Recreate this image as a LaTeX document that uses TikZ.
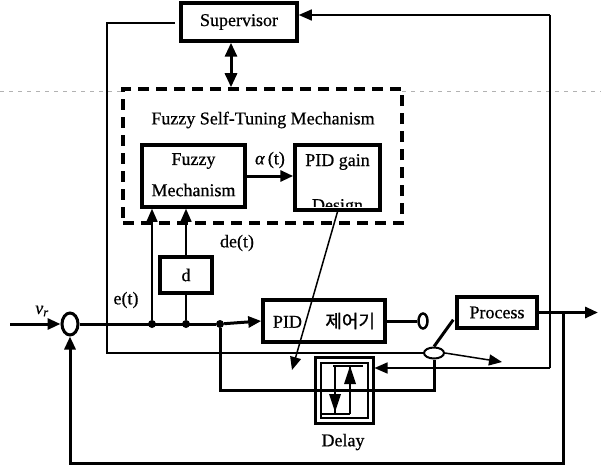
\documentclass[tikz,border=0pt]{standalone}
\usepackage{fontspec}
\setmainfont{Liberation Serif}[FakeBold=0.6]
\newfontfamily\cjk{Noto Sans CJK KR}[FakeBold=1.2]
\usetikzlibrary{arrows.meta,shapes.geometric,calc}
\begin{document}
\begin{tikzpicture}[x=1pt,y=-1pt,
  font=\fontsize{18}{20}\selectfont,
  box/.style={draw,line width=3.5pt,rectangle,inner sep=0pt},
  thk/.style={line width=3pt},
  thn/.style={line width=1.5pt},
  tip/.style={-{Triangle[length=13pt,width=11pt]}},
  dot/.style={circle,fill,inner sep=0pt,minimum size=8pt},
  lbl/.style={inner sep=1pt},
]
\useasboundingbox (0,0) rectangle (601,468);
% faint scan line
\draw[gray!60,line width=0.6pt,dash pattern=on 4pt off 5pt] (0,91) -- (123,91);
\draw[gray!60,line width=0.6pt,dash pattern=on 4pt off 5pt] (402,91) -- (601,91);

% boxes
\node[box,minimum width=116pt,minimum height=38pt] (sup) at (239,22) {Supervisor};
\node[draw,line width=3.5pt,dash pattern=on 11pt off 7pt,minimum width=279pt,minimum height=134pt] (fst) at (262.5,156) {};
\node[lbl] (fsttxt) at (263,120) {Fuzzy Self-Tuning Mechanism};
\node[box,minimum width=103pt,minimum height=62pt] (fm) at (193.5,176) {};
\node[lbl] (fmt1) at (193.5,161) {Fuzzy};
\node[lbl] (fmt2) at (193.5,190) {Mechanism};
\node[box,minimum width=85pt,minimum height=65pt] (pidg) at (337.5,177.5) {};
\node[lbl] (pidgt1) at (337.5,162) {PID gain};
\begin{scope}
\clip (297,150) rectangle (378,206.5);
\node[lbl,anchor=base] (pidgt2) at (337.5,211) {Design};
\end{scope}
\node[box,minimum width=52pt,minimum height=36pt] (d) at (186,275) {d};
\node[box,minimum width=122pt,minimum height=42pt] (pid) at (324,321) {PID\hspace{1.3em}{\cjk 제어기}};
\node[box,minimum width=80pt,minimum height=31pt] (proc) at (497,312.5) {Process};
\node[draw,line width=3pt,minimum width=58pt,minimum height=66pt] (dly) at (344,390) {};
\node[draw,line width=2pt,minimum width=47pt,minimum height=55pt] (dlyin) at (344,390) {};
\node[draw,ellipse,line width=3pt,minimum width=16pt,minimum height=22pt,inner sep=0pt] (sum) at (70,324) {};
\node[draw,ellipse,line width=2.5pt,minimum width=9pt,minimum height=15pt,inner sep=0pt] (term) at (423,321) {};
\node[draw,ellipse,line width=2pt,minimum width=20pt,minimum height=11pt,inner sep=0pt] (sw) at (434,353) {};

% labels
\node[lbl] (vr) at (42,311) {\textit{v}\textsubscript{\textit{r}}};
\node[lbl] (et) at (126,300) {e(t)};
\node[lbl] (det) at (237,243) {de(t)};
\node[lbl] (al) at (270,160) {\textit{α}\,(t)};
\node[lbl] (dlbl) at (343,442) {Delay};

% junctions and coordinates
\node[dot] (j1) at (152,324) {};
\node[dot] (j2) at (186,324) {};
\node[dot] (j3) at (220,324) {};
\coordinate (in) at (10,324);
\coordinate (lt) at (175,23);
\coordinate (rt) at (550,15);
\coordinate (rb) at (550,368);
\coordinate (dl) at (434,390);
\coordinate (swout) at (502,362);
\coordinate (br) at (563,312.5);
\coordinate (out) at (598,312.5);
\coordinate (fb) at (70,463);
\coordinate (pa) at (292,370);

% main path
\draw[thk,tip] (in) -- (sum.west);
\draw[thk] (sum.east) -- (j3);
\draw[thk,tip] (j3) -- (pid.west);
\draw[thn,tip] (j1) -- (j1 |- fm.south);
\draw[thn] (j2) -- (d.south);
\draw[thn,tip] (d.north) -- (d.north |- fm.south);
\draw[thk,tip] (fm.east) -- (pidg.west |- fm.east);
\draw[thk,{Triangle[length=14pt,width=12pt]}-{Triangle[length=14pt,width=12pt]}] ($(sup.south)+(-8,0)$) -- ($(fst.north)+(-31.5,0)$);
% supervisor loops
\draw[thn] (lt) -- (107,23) -- (107,353) -- (sw.west);
\draw[thn,tip] (sw.east) -- (swout);
\draw[thn,tip] (rt) -- (sup.east |- rt);
\draw[thn] (rt) -- (rb);
\draw[thn,tip] (rb) -- (dly.east |- rb);
% delay loop
\draw[thk] (j3) |- (dl) -- (sw.south);
\draw[line width=2.5pt] (333,366) -- (363,366) (335,366) -- (335,414) (350,366) -- (350,414) (322,414) -- (350,414);
\fill (350,366) -- (356,384) -- (344,384) -- cycle;
\fill (335,412) -- (341,394) -- (329,394) -- cycle;
% controller output and switch
\draw[thk] (pid.east) -- (term.west);
\draw[line width=3pt] (sw.north) -- ([yshift=10pt,xshift=-2pt]proc.south west);
\draw[thk,tip] (proc.east) -- (out);
\draw[thk,tip] (br) |- (fb) -- (sum.south);
\draw[thn,tip] (pidg.south) -- (pa);
\end{tikzpicture}
\end{document}
